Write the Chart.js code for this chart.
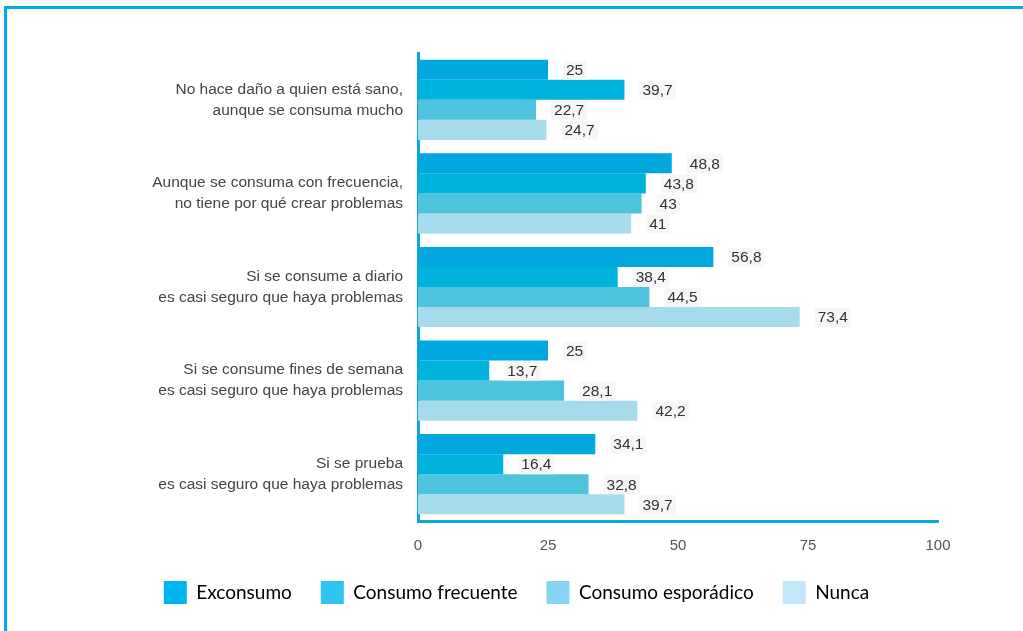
<!DOCTYPE html>
<html lang="es">
<head>
<meta charset="utf-8">
<title>Percepción de riesgo</title>
<script src="https://cdn.jsdelivr.net/npm/chart.js@4"></script>
<style>
    html, body { margin: 0; padding: 0; background: #fff; }
    #wrap { position: relative; width: 1023px; height: 631px; overflow: hidden; }
    #frame {
        position: absolute; left: 4px; top: 6px; width: 1100px; height: 700px;
        border-top: 3px solid #02ade6; border-left: 3px solid #02ade6;
    }
    #chart { position: absolute; left: 0; top: 0; }
</style>
</head>
<body>
<div id="wrap">
    <div id="frame"></div>
    <canvas id="chart" width="1023" height="631"></canvas>
</div>
<script>
// Datos
const categories = [
    ['No hace daño a quien está sano,', 'aunque se consuma mucho'],
    ['Aunque se consuma con frecuencia,', 'no tiene por qué crear problemas'],
    ['Si se consume a diario', 'es casi seguro que haya problemas'],
    ['Si se consume fines de semana', 'es casi seguro que haya problemas'],
    ['Si se prueba', 'es casi seguro que haya problemas']
]
const seriesNames = ['Exconsumo', 'Consumo frecuente', 'Consumo esporádico', 'Nunca']
const exconsumo = [25, 48.8, 56.8, 25, 34.1]
const consumoFrecuente = [39.7, 43.8, 38.4, 13.7, 16.4]
const consumoEsporadico = [22.7, 43, 44.5, 28.1, 32.8]
const nunca = [24.7, 41, 73.4, 42.2, 39.7]
const xTicks = [0, 25, 50, 75, 100]

// Colores (barras y leyenda son un poco distintos en el original)
const barColors = ['#00a8dd', '#00b3dc', '#4ec3de', '#a6dbeb']
const legendColors = ['#00b4ec', '#2fc3f0', '#85d4f6', '#c3e6f8']

const allSeries = [exconsumo, consumoFrecuente, consumoEsporadico, nunca]
const sansFont = '"Liberation Sans", Arial, sans-serif'

// Etiquetas de valor al final de cada barra
const valueLabels = {
    id: 'valueLabels',
    afterDatasetsDraw(chart) {
        const ctx = chart.ctx
        ctx.save()
        ctx.font = '15.5px ' + sansFont
        ctx.textBaseline = 'middle'
        ctx.textAlign = 'left'
        chart.data.datasets.forEach((ds, i) => {
            const meta = chart.getDatasetMeta(i)
            meta.data.forEach((bar, j) => {
                const txt = String(ds.data[j]).replace('.', ',')
                const x = bar.x + 18
                const w = ctx.measureText(txt).width
                ctx.fillStyle = '#f6f6f6'
                ctx.fillRect(x - 3, bar.y - 9, w + 6, 19)
                ctx.fillStyle = '#333'
                ctx.fillText(txt, x, bar.y + 1)
            })
        })
        ctx.restore()
    }
}

// Centrar la leyenda en todo el ancho del lienzo (no solo sobre el área del gráfico)
const legendShift = {
    id: 'legendShift',
    afterLayout(chart) {
        if (chart.legend) {
            chart.legend.left = 10
            chart.legend.right = 1023
        }
    }
}

new Chart(document.getElementById('chart'), {
    type: 'bar',
    data: {
        labels: categories,
        datasets: allSeries.map((values, i) => ({
            label: seriesNames[i],
            data: values,
            backgroundColor: barColors[i],
            borderWidth: 0,
            barPercentage: 1,
            categoryPercentage: 0.857
        }))
    },
    options: {
        indexAxis: 'y',
        responsive: false,
        animation: false,
        layout: {
            padding: { left: 0, right: 85, top: 53, bottom: 17 }
        },
        scales: {
            x: {
                min: 0,
                max: 100,
                afterBuildTicks: (scale) => {
                    scale.ticks = xTicks.map((v) => ({ value: v }))
                },
                afterFit: (scale) => { scale.height = 31 },
                grid: { display: false, drawTicks: false },
                border: { display: true, color: '#0aa9e2', width: 3 },
                ticks: {
                    padding: 16,
                    color: '#555',
                    font: { family: sansFont, size: 15 }
                }
            },
            y: {
                afterFit: (scale) => { scale.width = 418 },
                grid: { display: false, drawTicks: false },
                border: { display: true, color: '#0aa9e2', width: 3 },
                ticks: {
                    padding: 15,
                    color: '#444',
                    font: { family: sansFont, size: 15.5, lineHeight: 1.36 }
                }
            }
        },
        plugins: {
            tooltip: { enabled: false },
            legend: {
                position: 'bottom',
                labels: {
                    boxWidth: 23,
                    boxHeight: 23,
                    padding: 29,
                    color: '#34343e',
                    font: { family: 'Lato, sans-serif', size: 19 },
                    generateLabels: (chart) => chart.data.datasets.map((ds, i) => ({
                        text: ds.label,
                        fillStyle: legendColors[i],
                        strokeStyle: legendColors[i],
                        lineWidth: 0,
                        datasetIndex: i
                    }))
                }
            }
        }
    },
    plugins: [valueLabels, legendShift]
})
</script>
</body>
</html>
